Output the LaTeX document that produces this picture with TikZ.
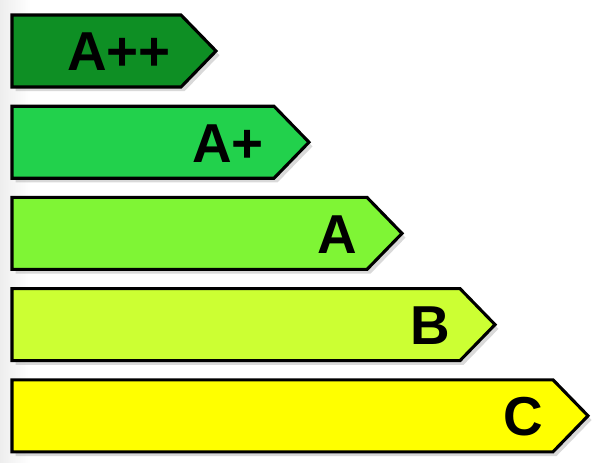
\documentclass[tikz,border=0pt]{standalone}
\usepackage{fontspec}
\setmainfont{Liberation Sans}
\usepackage{tikz}
\usetikzlibrary{shadows}
\definecolor{classApp}{HTML}{0E8F24}
\definecolor{classAp}{HTML}{22D14C}
\definecolor{classA}{HTML}{7FF535}
\definecolor{classB}{HTML}{CCFF33}
\definecolor{classC}{HTML}{FFFF00}

\begin{document}
\begin{tikzpicture}[x=0.025cm,y=-0.025cm]
            \useasboundingbox (0,0) rectangle (600,462);
            \fill[left color=black!7, right color=white] (0,0) rectangle (30,462);
            \foreach \i/\col/\lab in {0/classApp/A++,1/classAp/A+,2/classA/A,3/classB/B,4/classC/C} {
                \pgfmathsetmacro\ytop{15+91.2*\i}
                \pgfmathsetmacro\ybot{\ytop+72}
                \pgfmathsetmacro\ymid{\ytop+36}
                \pgfmathsetmacro\xend{181+93*\i}
                \pgfmathsetmacro\xtip{\xend+35}
                \draw[fill=\col, line width=2.2pt, line join=miter,
                      drop shadow={shadow xshift=2.5pt, shadow yshift=-3pt, opacity=0.3}]
                    (12,\ytop) -- (\xend,\ytop) -- (\xtip,\ymid) -- (\xend,\ybot) -- (12,\ybot) -- cycle;
                \node[anchor=east, inner sep=0pt, font=\fontsize{39}{39}\selectfont\bfseries] (cls\i) at (\xend-10,\ymid+1) {\lab};
            }
        \end{tikzpicture}
\end{document}
